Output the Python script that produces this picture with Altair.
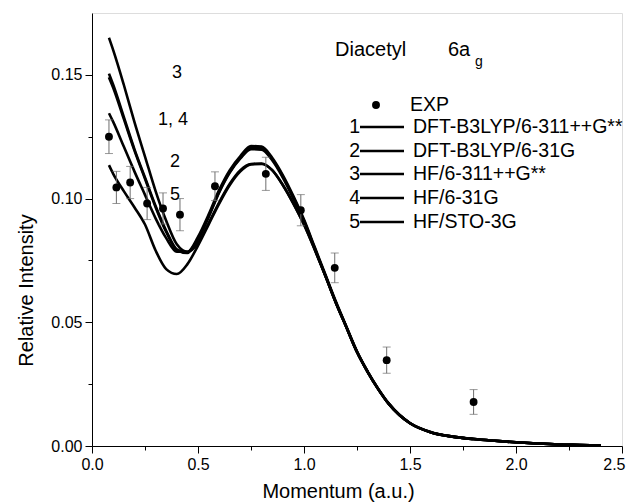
import altair as alt
import pandas as pd

# ---------------- data ----------------
momentum = [0.08, 0.10, 0.15, 0.20, 0.25, 0.30, 0.35, 0.40, 0.45, 0.50,
            0.55, 0.60, 0.65, 0.70, 0.75, 0.80, 0.85, 0.90, 0.95, 1.00,
            1.05, 1.10, 1.15, 1.20, 1.25, 1.30, 1.35, 1.40, 1.45, 1.50,
            1.60, 1.70, 1.80, 1.90, 2.00, 2.10, 2.20, 2.30, 2.40]

curve1 = [0.1505, 0.146, 0.133, 0.120, 0.1085, 0.097, 0.087, 0.0795, 0.0782, 0.0838,
          0.0928, 0.1028, 0.1108, 0.1165, 0.1205, 0.1203, 0.116, 0.109, 0.1005, 0.091,
          0.080, 0.069, 0.058, 0.048, 0.038, 0.030, 0.023, 0.017, 0.0125, 0.0092,
          0.0055, 0.0038, 0.0028, 0.0021, 0.0015, 0.0010, 0.0006, 0.0004, 0.0002]
curve2 = [0.1345, 0.131, 0.121, 0.111, 0.1015, 0.092, 0.084, 0.0785, 0.0785, 0.0845,
          0.0935, 0.1035, 0.1115, 0.1172, 0.1212, 0.1210, 0.1165, 0.1095, 0.101, 0.0915,
          0.0805, 0.0695, 0.0585, 0.0483, 0.0383, 0.0302, 0.0232, 0.0172, 0.0126, 0.0093,
          0.0056, 0.0038, 0.0028, 0.0021, 0.0015, 0.0010, 0.0006, 0.0004, 0.0002]
curve3 = [0.165, 0.160, 0.146, 0.131, 0.117, 0.103, 0.091, 0.0815, 0.0785, 0.082,
          0.090, 0.0985, 0.106, 0.1115, 0.1140, 0.1142, 0.1115, 0.1055, 0.098, 0.0895,
          0.0795, 0.069, 0.058, 0.048, 0.038, 0.030, 0.023, 0.017, 0.0125, 0.0092,
          0.0055, 0.0038, 0.0028, 0.0021, 0.0015, 0.0010, 0.0006, 0.0004, 0.0002]
curve4 = [0.149, 0.1448, 0.1322, 0.1195, 0.108, 0.0965, 0.0865, 0.0792, 0.0780, 0.0835,
          0.0925, 0.1025, 0.1105, 0.1162, 0.1200, 0.1198, 0.1155, 0.1085, 0.1, 0.0908,
          0.080, 0.069, 0.058, 0.048, 0.038, 0.030, 0.023, 0.017, 0.0125, 0.0092,
          0.0055, 0.0038, 0.0028, 0.0021, 0.0015, 0.0010, 0.0006, 0.0004, 0.0002]
curve5 = [0.1135, 0.110, 0.103, 0.0965, 0.0895, 0.079, 0.0715, 0.0695, 0.0735, 0.081,
          0.0895, 0.098, 0.1055, 0.111, 0.1138, 0.1140, 0.1115, 0.1055, 0.098, 0.0895,
          0.0795, 0.069, 0.058, 0.048, 0.038, 0.030, 0.023, 0.017, 0.0125, 0.0092,
          0.0055, 0.0038, 0.0028, 0.0021, 0.0015, 0.0010, 0.0006, 0.0004, 0.0002]

curve_ids = ["1", "2", "3", "4", "5"]
curve_names = ["DFT-B3LYP/6-311++G**", "DFT-B3LYP/6-31G", "HF/6-311++G**",
               "HF/6-31G", "HF/STO-3G"]

exp_momentum = [0.08, 0.115, 0.18, 0.26, 0.335, 0.415, 0.58, 0.82, 0.985, 1.145, 1.39, 1.80]
exp_intensity = [0.125, 0.1045, 0.1065, 0.098, 0.096, 0.0935, 0.105, 0.110, 0.0953, 0.072, 0.0347, 0.0178]
exp_error = [0.0068, 0.0065, 0.0065, 0.0065, 0.0063, 0.0065, 0.0058, 0.0067, 0.0063, 0.006, 0.0053, 0.005]

x_ticks = [0.0, 0.25, 0.5, 0.75, 1.0, 1.25, 1.5, 1.75, 2.0, 2.25, 2.5]
y_ticks = [0.0, 0.025, 0.05, 0.075, 0.10, 0.125, 0.15]

curve_labels = ["3", "1, 4", "2", "5"]

# ---------------- tables ----------------
rows = []
for cid, vals in zip(curve_ids, [curve1, curve2, curve3, curve4, curve5]):
    for m, v in zip(momentum, vals):
        rows.append({"curve": cid, "momentum": m, "intensity": v})
curves_df = pd.DataFrame(rows)

exp_df = pd.DataFrame({
    "momentum": exp_momentum,
    "intensity": exp_intensity,
    "lo": [v - e for v, e in zip(exp_intensity, exp_error)],
    "hi": [v + e for v, e in zip(exp_intensity, exp_error)],
})

FONT = "Liberation Sans"

xscale = alt.Scale(domain=[0, 2.5], nice=False, zero=False)
yscale = alt.Scale(domain=[0, 0.175], nice=False, zero=False)

x_axis = alt.Axis(
    values=x_ticks,
    labelExpr="round(datum.value*4) % 2 == 0 ? format(datum.value, '.1f') : ''",
    tickSize={"condition": {"test": "round(datum.value*4) % 2 == 0", "value": 7}, "value": 4},
    labelAlign={"condition": {"test": "datum.value >= 2.49", "value": "right"}, "value": "center"},
    labelOffset={"condition": {"test": "datum.value >= 2.49", "value": 3}, "value": 0},
    grid=False, domainColor="black", tickColor="black", labelColor="black",
    labelFontSize=16, labelFont=FONT, labelPadding=3, labelFlush=False,
    title="Momentum (a.u.)", titleFontSize=20, titleFont=FONT, titleFontWeight="normal",
    titleColor="black", titleX=246, titleY=51, titleBaseline="alphabetic",
)
y_axis = alt.Axis(
    values=y_ticks,
    labelExpr="round(datum.value*40) % 2 == 0 ? format(datum.value, '.2f') : ''",
    tickSize={"condition": {"test": "round(datum.value*40) % 2 == 0", "value": 7}, "value": 4},
    grid=False, domainColor="black", tickColor="black", labelColor="black",
    labelFontSize=16, labelFont=FONT, labelPadding=3, labelFlush=False,
    title="Relative Intensity", titleFontSize=20, titleFont=FONT, titleFontWeight="normal",
    titleColor="black", titleX=-60, titleY=277, titleBaseline="alphabetic",
)

X = alt.X("momentum:Q", scale=xscale, axis=x_axis)
Y = alt.Y("intensity:Q", scale=yscale, axis=y_axis)

lines = alt.Chart(curves_df).mark_line(
    color="black", strokeWidth=2.6, interpolate="monotone", clip=True
).encode(x=X, y=Y, detail="curve:N")

bars = alt.Chart(exp_df).mark_rule(color="#6e6e6e", strokeWidth=1).encode(
    x=X, y=alt.Y("lo:Q", scale=yscale, axis=y_axis), y2="hi:Q")
cap_lo = alt.Chart(exp_df).mark_tick(orient="horizontal", size=8, thickness=1, color="#6e6e6e").encode(
    x=X, y=alt.Y("lo:Q", scale=yscale, axis=y_axis))
cap_hi = alt.Chart(exp_df).mark_tick(orient="horizontal", size=8, thickness=1, color="#6e6e6e").encode(
    x=X, y=alt.Y("hi:Q", scale=yscale, axis=y_axis))
points = alt.Chart(exp_df).mark_circle(size=62, color="black", opacity=1).encode(x=X, y=Y)

# ---------------- annotations (pixel layout in plot coordinates) ----------------
base = alt.Chart(pd.DataFrame({"k": [0]}))
layers = [lines, bars, cap_lo, cap_hi, points]

def txt(s, x, y, size=19.5, align="left", baseline="middle"):
    return base.mark_text(text=s, font=FONT, fontSize=size, color="black",
                          align=align, baseline=baseline).encode(
        x=alt.value(x), y=alt.value(y))

# curve labels
for s, (lx, ly) in zip(curve_labels, [(85, 60), (81, 107), (83, 149), (83, 182)]):
    layers.append(txt(s, lx, ly, size=18, align="center"))

# title
layers.append(txt("Diacetyl", 243, 37, size=20))
layers.append(txt("6a", 356, 37, size=20))
layers.append(txt("g", 383, 49, size=14))

# legend
layers.append(base.mark_circle(size=62, color="black", opacity=1).encode(
    x=alt.value(284), y=alt.value(92)))
layers.append(txt("EXP", 318, 92))
row_y = [114, 138, 161, 185, 209]
for cid, name, ry in zip(curve_ids, curve_names, row_y):
    layers.append(txt(cid, 268, ry, align="right"))
    layers.append(base.mark_rule(color="black", strokeWidth=2.6).encode(
        x=alt.value(268), x2=alt.value(312), y=alt.value(ry)))
    layers.append(txt(name, 321, ry))

chart = alt.layer(*layers).properties(
    width=530, height=433,
    autosize=alt.AutoSizeParams(type="none"),
    padding={"left": 84, "top": 5, "right": 4, "bottom": 56},
).configure_view(stroke=None).configure(background="white")

chart.save("out.html", embed_options={"renderer": "svg", "actions": False})
